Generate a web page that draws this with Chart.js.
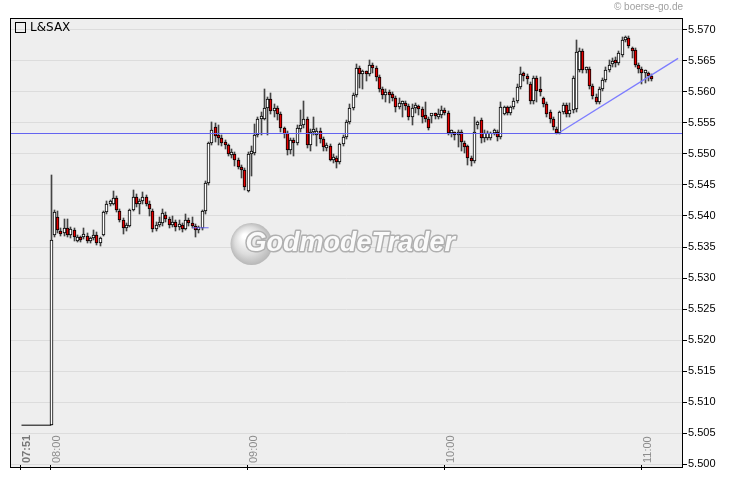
<!DOCTYPE html>
<html>
<head>
<meta charset="utf-8">
<title>L&amp;SAX intraday</title>
<script src="https://cdn.jsdelivr.net/npm/chart.js@4.4.0/dist/chart.umd.min.js"></script>
<style>
  html, body { margin: 0; padding: 0; background: #fff; }
</style>
</head>
<body>
<canvas id="chart" width="730" height="481"></canvas>
<script>
// --- data (1-minute candles from 08:00) ---
const instrument = 'L&SAX';
const firstMinute = '07:48';   // left edge of the plot
const lastMinute = '11:12';    // right edge of the plot
const candleStart = '08:00';
const tickTimes = ['07:51', '08:00', '09:00', '10:00', '11:00'];
const yMin = 5.4994;
const yMax = 5.5719;
const yStep = 0.005;

// pre-market quote shown as a flat line
const preOpenTimes = ['07:51', '08:00'];
const preOpenPrice = 5.5063;

// drawn lines
const levelPrice = 5.5533;
const trendTimes = ['10:35', '11:11'];
const trendPrices = [5.5535, 5.5654];
const stopTimes = ['08:43', '08:48'];
const stopPrice = 5.5381;

const opens = [
  5.5063, 5.5370, 5.5399, 5.5376, 5.5372, 5.5380, 5.5370, 5.5377, 5.5360, 5.5366,
  5.5366, 5.5368, 5.5360, 5.5364, 5.5370, 5.5356, 5.5370, 5.5406, 5.5420, 5.5420,
  5.5429, 5.5408, 5.5393, 5.5381, 5.5384, 5.5410, 5.5430, 5.5420, 5.5424, 5.5430,
  5.5420, 5.5408, 5.5379, 5.5385, 5.5388, 5.5402, 5.5395, 5.5386, 5.5390, 5.5382,
  5.5386, 5.5379, 5.5393, 5.5388, 5.5384, 5.5378, 5.5380, 5.5408, 5.5453, 5.5518,
  5.5544, 5.5529, 5.5525, 5.5518, 5.5514, 5.5498, 5.5500, 5.5491, 5.5479, 5.5474,
  5.5440, 5.5500, 5.5502, 5.5531, 5.5557, 5.5557, 5.5574, 5.5588, 5.5569, 5.5574,
  5.5565, 5.5541, 5.5534, 5.5506, 5.5522, 5.5518, 5.5540, 5.5546, 5.5557, 5.5515,
  5.5535, 5.5530, 5.5537, 5.5524, 5.5509, 5.5513, 5.5491, 5.5493, 5.5487, 5.5516,
  5.5527, 5.5551, 5.5574, 5.5595, 5.5638, 5.5629, 5.5631, 5.5628, 5.5644, 5.5638,
  5.5624, 5.5605, 5.5595, 5.5600, 5.5597, 5.5590, 5.5575, 5.5580, 5.5582, 5.5577,
  5.5559, 5.5574, 5.5576, 5.5572, 5.5562, 5.5556, 5.5561, 5.5562, 5.5560, 5.5562,
  5.5570, 5.5566, 5.5533, 5.5533, 5.5530, 5.5535, 5.5518, 5.5512, 5.5493, 5.5489,
  5.5547, 5.5555, 5.5525, 5.5526, 5.5525, 5.5534, 5.5536, 5.5527, 5.5565, 5.5575,
  5.5566, 5.5575, 5.5585, 5.5608, 5.5628, 5.5625, 5.5613, 5.5586, 5.5623, 5.5603,
  5.5590, 5.5581, 5.5567, 5.5556, 5.5540, 5.5533, 5.5567, 5.5579, 5.5565, 5.5570,
  5.5572, 5.5635, 5.5666, 5.5636, 5.5637, 5.5609, 5.5592, 5.5584, 5.5605, 5.5619,
  5.5635, 5.5645, 5.5648, 5.5646, 5.5660, 5.5684, 5.5687, 5.5668, 5.5667, 5.5644,
  5.5637, 5.5630, 5.5629, 5.5626
];
const highs = [
  5.5466, 5.5409, 5.5408, 5.5381, 5.5395, 5.5395, 5.5383, 5.5380, 5.5370, 5.5368,
  5.5380, 5.5372, 5.5366, 5.5378, 5.5374, 5.5366, 5.5408, 5.5424, 5.5426, 5.5441,
  5.5432, 5.5412, 5.5396, 5.5388, 5.5412, 5.5442, 5.5436, 5.5428, 5.5438, 5.5434,
  5.5424, 5.5412, 5.5390, 5.5398, 5.5412, 5.5406, 5.5398, 5.5400, 5.5393, 5.5394,
  5.5389, 5.5404, 5.5396, 5.5398, 5.5387, 5.5384, 5.5410, 5.5456, 5.5520, 5.5552,
  5.5550, 5.5546, 5.5530, 5.5522, 5.5516, 5.5508, 5.5503, 5.5494, 5.5482, 5.5477,
  5.5503, 5.5512, 5.5548, 5.5560, 5.5568, 5.5605, 5.5592, 5.5598, 5.5580, 5.5578,
  5.5568, 5.5544, 5.5537, 5.5526, 5.5526, 5.5546, 5.5570, 5.5586, 5.5560, 5.5540,
  5.5560, 5.5542, 5.5541, 5.5527, 5.5518, 5.5516, 5.5500, 5.5496, 5.5518, 5.5530,
  5.5555, 5.5580, 5.5598, 5.5645, 5.5641, 5.5636, 5.5634, 5.5651, 5.5647, 5.5641,
  5.5627, 5.5608, 5.5604, 5.5603, 5.5600, 5.5593, 5.5590, 5.5586, 5.5585, 5.5580,
  5.5580, 5.5582, 5.5579, 5.5575, 5.5584, 5.5559, 5.5565, 5.5566, 5.5572, 5.5578,
  5.5574, 5.5569, 5.5538, 5.5536, 5.5538, 5.5538, 5.5521, 5.5515, 5.5496, 5.5560,
  5.5553, 5.5558, 5.5538, 5.5537, 5.5536, 5.5540, 5.5539, 5.5584, 5.5578, 5.5578,
  5.5578, 5.5590, 5.5612, 5.5640, 5.5632, 5.5628, 5.5616, 5.5626, 5.5626, 5.5624,
  5.5592, 5.5584, 5.5570, 5.5559, 5.5543, 5.5569, 5.5582, 5.5582, 5.5582, 5.5626,
  5.5683, 5.5670, 5.5669, 5.5640, 5.5640, 5.5612, 5.5596, 5.5608, 5.5622, 5.5640,
  5.5652, 5.5655, 5.5656, 5.5666, 5.5688, 5.5690, 5.5690, 5.5672, 5.5670, 5.5647,
  5.5640, 5.5636, 5.5632, 5.5629
];
const lows = [
  5.5063, 5.5366, 5.5372, 5.5368, 5.5368, 5.5366, 5.5365, 5.5360, 5.5358, 5.5358,
  5.5363, 5.5356, 5.5356, 5.5362, 5.5353, 5.5352, 5.5368, 5.5404, 5.5416, 5.5418,
  5.5406, 5.5390, 5.5371, 5.5376, 5.5382, 5.5408, 5.5414, 5.5404, 5.5420, 5.5416,
  5.5400, 5.5374, 5.5376, 5.5382, 5.5384, 5.5390, 5.5380, 5.5383, 5.5376, 5.5378,
  5.5374, 5.5377, 5.5384, 5.5380, 5.5366, 5.5372, 5.5378, 5.5404, 5.5450, 5.5514,
  5.5520, 5.5514, 5.5512, 5.5508, 5.5496, 5.5494, 5.5481, 5.5476, 5.5462, 5.5442,
  5.5438, 5.5465, 5.5498, 5.5528, 5.5531, 5.5555, 5.5531, 5.5564, 5.5560, 5.5554,
  5.5536, 5.5526, 5.5498, 5.5500, 5.5497, 5.5514, 5.5536, 5.5542, 5.5510, 5.5505,
  5.5530, 5.5512, 5.5518, 5.5505, 5.5505, 5.5488, 5.5486, 5.5477, 5.5484, 5.5512,
  5.5524, 5.5548, 5.5570, 5.5592, 5.5606, 5.5604, 5.5618, 5.5625, 5.5630, 5.5618,
  5.5600, 5.5588, 5.5584, 5.5582, 5.5585, 5.5568, 5.5572, 5.5560, 5.5570, 5.5555,
  5.5546, 5.5566, 5.5563, 5.5550, 5.5552, 5.5538, 5.5550, 5.5556, 5.5556, 5.5558,
  5.5562, 5.5530, 5.5528, 5.5522, 5.5511, 5.5505, 5.5502, 5.5482, 5.5480, 5.5486,
  5.5540, 5.5518, 5.5520, 5.5522, 5.5522, 5.5530, 5.5521, 5.5524, 5.5562, 5.5562,
  5.5563, 5.5572, 5.5582, 5.5605, 5.5618, 5.5612, 5.5580, 5.5580, 5.5584, 5.5594,
  5.5576, 5.5560, 5.5550, 5.5538, 5.5532, 5.5532, 5.5564, 5.5559, 5.5560, 5.5566,
  5.5568, 5.5632, 5.5630, 5.5630, 5.5605, 5.5588, 5.5580, 5.5581, 5.5602, 5.5616,
  5.5632, 5.5640, 5.5640, 5.5643, 5.5656, 5.5680, 5.5670, 5.5655, 5.5640, 5.5630,
  5.5612, 5.5614, 5.5618, 5.5617
];
const closes = [
  5.5362, 5.5406, 5.5378, 5.5371, 5.5380, 5.5370, 5.5379, 5.5366, 5.5366, 5.5361,
  5.5370, 5.5360, 5.5364, 5.5370, 5.5356, 5.5364, 5.5406, 5.5420, 5.5422, 5.5429,
  5.5410, 5.5393, 5.5381, 5.5384, 5.5410, 5.5430, 5.5420, 5.5424, 5.5430, 5.5420,
  5.5411, 5.5379, 5.5385, 5.5388, 5.5405, 5.5395, 5.5386, 5.5390, 5.5382, 5.5386,
  5.5379, 5.5393, 5.5388, 5.5384, 5.5378, 5.5380, 5.5408, 5.5453, 5.5518, 5.5538,
  5.5529, 5.5525, 5.5518, 5.5514, 5.5500, 5.5501, 5.5491, 5.5479, 5.5474, 5.5446,
  5.5500, 5.5502, 5.5531, 5.5557, 5.5559, 5.5574, 5.5588, 5.5569, 5.5574, 5.5565,
  5.5541, 5.5532, 5.5506, 5.5523, 5.5518, 5.5542, 5.5546, 5.5557, 5.5515, 5.5535,
  5.5537, 5.5537, 5.5524, 5.5511, 5.5513, 5.5491, 5.5495, 5.5487, 5.5516, 5.5527,
  5.5551, 5.5574, 5.5595, 5.5638, 5.5629, 5.5631, 5.5628, 5.5644, 5.5638, 5.5624,
  5.5605, 5.5595, 5.5600, 5.5595, 5.5590, 5.5575, 5.5582, 5.5582, 5.5577, 5.5559,
  5.5574, 5.5576, 5.5572, 5.5560, 5.5556, 5.5541, 5.5562, 5.5561, 5.5564, 5.5570,
  5.5566, 5.5533, 5.5534, 5.5530, 5.5535, 5.5519, 5.5511, 5.5494, 5.5489, 5.5535,
  5.5551, 5.5525, 5.5534, 5.5534, 5.5533, 5.5537, 5.5527, 5.5575, 5.5575, 5.5566,
  5.5575, 5.5585, 5.5608, 5.5628, 5.5625, 5.5620, 5.5586, 5.5623, 5.5602, 5.5600,
  5.5581, 5.5565, 5.5556, 5.5544, 5.5533, 5.5567, 5.5579, 5.5565, 5.5570, 5.5623,
  5.5664, 5.5666, 5.5636, 5.5637, 5.5609, 5.5593, 5.5584, 5.5605, 5.5619, 5.5635,
  5.5644, 5.5648, 5.5646, 5.5662, 5.5684, 5.5687, 5.5674, 5.5666, 5.5644, 5.5637,
  5.5630, 5.5632, 5.5626, 5.5620
];

// --- helpers ---
function toMin(t) { const p = t.split(':'); return +p[0] * 60 + +p[1]; }
function toLabel(m) {
  const h = Math.floor(m / 60), mm = m % 60;
  return String(h).padStart(2, '0') + ':' + String(mm).padStart(2, '0');
}

// category per minute across the whole plot
const minutes = [];
for (let m = toMin(firstMinute); m <= toMin(lastMinute); m++) minutes.push(toLabel(m));
const candleTimes = opens.map((_, i) => toLabel(toMin(candleStart) + i));

const bodyData = candleTimes.map((t, i) => ({ x: t, y: [opens[i], closes[i]] }));
const wickData = candleTimes.map((t, i) => ({ x: t, y: [lows[i], highs[i]] }));

const FONT = '"Liberation Sans", Arial, sans-serif';

// snap candle elements to whole pixels so the outlines stay crisp
const pixelSnap = {
  id: 'pixelSnap',
  beforeDatasetsDraw(chart) {
    chart.data.datasets.forEach((ds, i) => {
      if (ds.type === 'line') return;
      chart.getDatasetMeta(i).data.forEach(el => {
        el.x = Math.floor(el.x) + 0.5;
        el.y = Math.round(el.y);
        el.base = Math.round(el.base);
      });
    });
  }
};

// background, border, watermark, texts, level line
const decor = {
  id: 'decor',
  beforeDraw(chart) {
    const { ctx, chartArea: a } = chart;
    ctx.save();
    ctx.fillStyle = '#ffffff';
    ctx.fillRect(0, 0, chart.width, chart.height);
    ctx.fillStyle = '#eeeeee';
    ctx.fillRect(a.left, a.top, a.right - a.left, a.bottom - a.top);
    ctx.restore();
  },
  beforeDatasetsDraw(chart) {
    // GodmodeTrader watermark
    const { ctx, chartArea: a } = chart;
    const cx = (a.left + a.right) / 2, cy = (a.top + a.bottom) / 2;
    ctx.save();
    const lx = cx - 95, ly = cy + 1;
    const g = ctx.createRadialGradient(lx - 7, ly - 8, 2, lx, ly, 22);
    g.addColorStop(0, '#ffffff');
    g.addColorStop(0.6, '#dcdcdc');
    g.addColorStop(1, '#b4b4b4');
    ctx.beginPath();
    ctx.arc(lx, ly, 21, 0, Math.PI * 2);
    ctx.fillStyle = g;
    ctx.fill();
    ctx.font = 'italic bold 27px ' + FONT;
    ctx.textBaseline = 'middle';
    ctx.textAlign = 'left';
    ctx.lineJoin = 'round';
    ctx.lineWidth = 3;
    ctx.strokeStyle = '#b0b0b0';
    ctx.strokeText('GodmodeTrader', cx - 101, cy + 1);
    ctx.fillStyle = '#fafafa';
    ctx.fillText('GodmodeTrader', cx - 101, cy + 1);
    ctx.restore();
  },
  afterDatasetsDraw(chart) {
    const { ctx, chartArea: a, scales } = chart;
    ctx.save();

    // horizontal level line
    const ly = Math.round(scales.y.getPixelForValue(levelPrice)) + 0.5;
    ctx.strokeStyle = '#6464f0';
    ctx.lineWidth = 1;
    ctx.beginPath();
    ctx.moveTo(a.left, ly);
    ctx.lineTo(a.right, ly);
    ctx.stroke();

    // plot frame
    ctx.strokeStyle = '#000';
    ctx.strokeRect(a.left + 0.5, a.top + 0.5, a.right - a.left - 1, a.bottom - a.top - 1);

    // time ticks and rotated labels inside the plot
    tickTimes.forEach((t, i) => {
      const px = Math.round(scales.x.getPixelForValue(minutes.indexOf(t))) - 0.5;
      ctx.strokeStyle = '#000';
      ctx.beginPath();
      ctx.moveTo(px, a.bottom - 3);
      ctx.lineTo(px, a.bottom + 2);
      ctx.stroke();
      ctx.save();
      ctx.translate(px + 9.5, a.bottom - 5);
      ctx.rotate(-Math.PI / 2);
      ctx.font = (i === 0 ? 'bold ' : '') + '11px ' + FONT;
      ctx.fillStyle = i === 0 ? '#777' : '#8c8c8c';
      ctx.textAlign = 'left';
      ctx.textBaseline = 'alphabetic';
      ctx.fillText(t, 0, 0);
      ctx.restore();
    });

    // instrument label with its box
    ctx.strokeStyle = '#000';
    ctx.strokeRect(a.left + 5.5, a.top + 4.5, 10, 10);
    ctx.fillStyle = '#000';
    ctx.font = '12px "DejaVu Sans", sans-serif';
    ctx.textAlign = 'left';
    ctx.textBaseline = 'alphabetic';
    ctx.fillText(instrument, a.left + 20, a.top + 13);

    // source note
    ctx.fillStyle = '#a0a0a0';
    ctx.font = '10px ' + FONT;
    ctx.textAlign = 'right';
    ctx.fillText('\u00A9 boerse-go.de', a.right, 10);
    ctx.restore();
  }
};

new Chart(document.getElementById('chart'), {
  type: 'bar',
  data: {
    labels: minutes,
    datasets: [
      {
        label: 'trend',
        type: 'line',
        data: trendTimes.map((t, i) => ({ x: t, y: trendPrices[i] })),
        borderColor: '#7c7cff',
        borderWidth: 1.3,
        pointRadius: 0,
        tension: 0,
        order: 0
      },
      {
        label: 'stop',
        type: 'line',
        data: stopTimes.map(t => ({ x: t, y: stopPrice })),
        borderColor: '#6a6aee',
        borderWidth: 1,
        pointRadius: 0,
        order: 0
      },
      {
        label: 'pre-open',
        type: 'line',
        data: preOpenTimes.map(t => ({ x: t, y: preOpenPrice })),
        borderColor: '#000',
        borderWidth: 1,
        pointRadius: 0,
        order: 1
      },
      {
        label: 'body',
        data: bodyData,
        backgroundColor: ctx => closes[ctx.dataIndex] >= opens[ctx.dataIndex] ? '#ffffff' : '#e60000',
        borderColor: '#000',
        borderWidth: 1,
        borderSkipped: false,
        barThickness: 3,
        minBarLength: 3,
        grouped: false,
        order: 2
      },
      {
        label: 'wick',
        data: wickData,
        backgroundColor: '#444444',
        barThickness: 1,
        grouped: false,
        order: 3
      }
    ]
  },
  options: {
    responsive: false,
    animation: false,
    devicePixelRatio: 1,
    layout: { padding: { left: 10, top: 18, right: 0, bottom: 13 } },
    plugins: {
      legend: { display: false },
      tooltip: { enabled: false }
    },
    scales: {
      x: {
        type: 'category',
        display: false,
        offset: true,
        grid: { display: false }
      },
      y: {
        position: 'right',
        min: yMin,
        max: yMax,
        afterFit: s => { s.width = 47; },
        border: { display: false },
        grid: { color: '#dcdcdc', tickColor: '#000', tickLength: 4, lineWidth: 1 },
        ticks: {
          stepSize: yStep,
          includeBounds: false,
          maxTicksLimit: 20,
          padding: 1,
          color: '#000',
          font: { family: FONT, size: 11 },
          callback: v => v.toFixed(3)
        }
      }
    }
  },
  plugins: [pixelSnap, decor]
});
</script>
</body>
</html>
